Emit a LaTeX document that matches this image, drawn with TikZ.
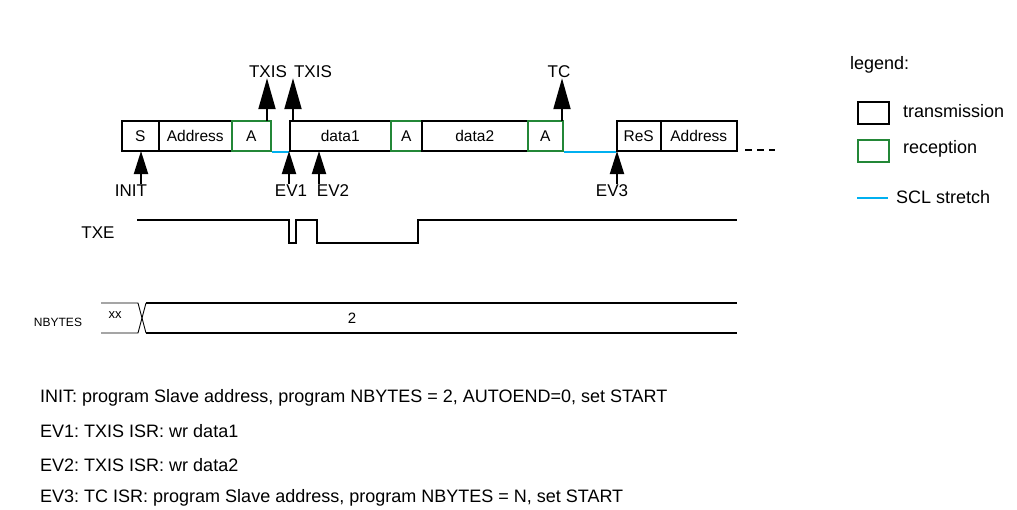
\documentclass[tikz,border=0pt]{standalone}
\usepackage{fontspec}
\setmainfont{Liberation Sans}
\usetikzlibrary{arrows.meta}
\definecolor{rxgreen}{RGB}{35,135,55}
\definecolor{sclblue}{RGB}{0,176,240}
\frenchspacing
\begin{document}
\begin{tikzpicture}[x=1pt,y=-1pt,
  font=\fontsize{17}{20}\selectfont,
  tx/.style={draw=black,line width=1.5pt,minimum height=30pt,inner sep=0pt,anchor=north west,font=\fontsize{15.5}{18}\selectfont},
  rx/.style={tx,draw=rxgreen},
  scl/.style={draw=sclblue,line width=2pt},
  bigarr/.style={line width=2pt,-{Triangle[length=31pt,width=17pt]}},
  smallarr/.style={line width=2pt,-{Triangle[length=23pt,width=14pt]}},
  lbl/.style={inner sep=0pt},
  wave/.style={line width=1.5pt},
  note/.style={inner sep=0pt,anchor=west,font=\fontsize{18}{21}\selectfont}]
\path[use as bounding box] (0,0) rectangle (1017,509);

% frame boxes
\node[tx,minimum width=37pt] (S) at (121,120) {S};
\node[tx,minimum width=73pt] (addr1) at (158,120) {Address};
\node[rx,minimum width=39pt] (A1) at (231,120) {A};
\node[tx,minimum width=101pt] (d1) at (289,120) {data1};
\node[rx,minimum width=31pt] (A2) at (390,120) {A};
\node[tx,minimum width=106pt] (d2) at (421,120) {data2};
\node[rx,minimum width=35pt] (A3) at (527,120) {A};
\node[tx,minimum width=44pt] (ReS) at (616,120) {ReS};
\node[tx,minimum width=76pt] (addr2) at (660,120) {Address};
\coordinate (dots1) at (745,150);
\coordinate (dots2) at (775,150);
\draw[line width=1.5pt,dash pattern=on 7pt off 5pt] (dots1) -- (dots2);

% SCL stretch
\draw[scl] (A1.south east) -- (d1.south west);
\draw[scl] (A3.south east) -- (ReS.south west);

% top flags
\node[lbl] (txis1) at (268,72) {TXIS};
\node[lbl] (txis2) at (313,72) {TXIS};
\node[lbl] (tc) at (559,72) {TC};
\coordinate (pT1) at (267,121);
\coordinate (pT2) at (293,121);
\coordinate (pTC) at (562,121);
\draw[bigarr] (pT1) -- (pT1 |- txis1.south);
\draw[bigarr] (pT2) -- (pT2 |- txis2.south);
\draw[bigarr] (pTC) -- (pTC |- tc.south);

% bottom events
\node[lbl] (init) at (131,191) {INIT};
\node[lbl] (ev1) at (291,191) {EV1};
\node[lbl] (ev2) at (333,191) {EV2};
\node[lbl] (ev3) at (612,191) {EV3};
\coordinate (pINIT) at (141,151);
\coordinate (pEV1) at (289,151);
\coordinate (pEV2) at (319,151);
\coordinate (pEV3) at (617,151);
\draw[smallarr] (pINIT |- init.north) ++(0,-1) -- (pINIT);
\draw[smallarr] (pEV1 |- ev1.north) ++(0,-1) -- (pEV1);
\draw[smallarr] (pEV2 |- ev2.north) ++(0,-1) -- (pEV2);
\draw[smallarr] (pEV3 |- ev3.north) ++(0,-1) -- (pEV3);

% TXE
\node[lbl] (txe) at (98,233) {TXE};
\draw[wave] (137,220) -- (289,220) -- (289,243) -- (296,243) -- (296,220)
  -- (317,220) -- (317,243) -- (418,243) -- (418,220) -- (737,220);

% NBYTES
\node[lbl,font=\fontsize{12}{14}\selectfont] (nb) at (58,322) {NBYTES};
\node[lbl,font=\fontsize{13}{15}\selectfont] (xx) at (115,315) {xx};
\node[lbl,font=\fontsize{15}{18}\selectfont] (two) at (352,318) {2};
\draw[line width=0.9pt] (101,303) -- (138,303) -- (146,333);
\draw[line width=0.9pt] (101,333) -- (138,333) -- (146,303);
\draw[wave] (146,303) -- (737,303);
\draw[wave] (146,333) -- (737,333);

% legend
\node[lbl,anchor=west,font=\fontsize{18}{21}\selectfont] (leg) at (850,65) {legend:};
\node[draw=black,line width=1.5pt,minimum width=31pt,minimum height=22pt,inner sep=0pt,anchor=north west] (legtx) at (857,101) {};
\node[lbl,anchor=west,font=\fontsize{18}{21}\selectfont] (legtxl) at (903,111) {transmission};
\node[draw=rxgreen,line width=1.5pt,minimum width=31pt,minimum height=22pt,inner sep=0pt,anchor=north west] (legrx) at (857,139) {};
\node[lbl,anchor=west,font=\fontsize{18}{21}\selectfont] (legrxl) at (903,149) {reception};
\coordinate (legs1) at (857,198);
\coordinate (legs2) at (888,198);
\draw[scl] (legs1) -- (legs2);
\node[lbl,anchor=west,font=\fontsize{18}{21}\selectfont] (legsl) at (896,197) {SCL stretch};

% notes
\node[note] (n1) at (40,398) {INIT: program Slave address, program NBYTES = 2, AUTOEND=0, set START};
\node[note] (n2) at (40,431) {EV1: TXIS ISR: wr data1};
\node[note] (n3) at (40,465) {EV2: TXIS ISR: wr data2};
\node[note] (n4) at (40,498) {EV3: TC ISR: program Slave address, program NBYTES = N, set START};
\end{tikzpicture}
\end{document}
